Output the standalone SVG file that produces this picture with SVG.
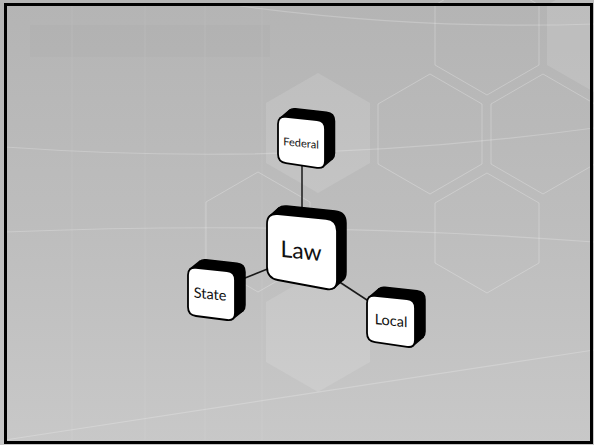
<svg xmlns="http://www.w3.org/2000/svg" width="594" height="445" viewBox="0 0 594 445">
<defs>
<linearGradient id="bg" x1="0" y1="0" x2="0" y2="1">
<stop offset="0" stop-color="#b4b4b4"/>
<stop offset="0.5" stop-color="#bdbdbd"/>
<stop offset="1" stop-color="#c8c8c8"/>
</linearGradient>
<polygon id="hex" points="0,-60 52,-30 52,30 0,60 -52,30 -52,-30"/>
</defs>
<style>
.hexfill{fill:#ffffff;fill-opacity:0.12;stroke:none}
.hexline{fill:none;stroke:#ffffff;stroke-opacity:0.25;stroke-width:1}
.arc{fill:none;stroke:#ffffff;stroke-opacity:0.22;stroke-width:1.2}
.stripe{stroke:#ffffff;stroke-opacity:0.04;stroke-width:2}
.conn{stroke:#1a1a1a;stroke-width:1.5;fill:none}
.depth{fill:#000;stroke:#000;stroke-width:1.5;stroke-linejoin:round}
.face{fill:#fff;stroke:#000;stroke-width:1.8}
.lbl{font-family:Lato,"Liberation Sans",sans-serif;fill:#111;text-anchor:middle}
</style>
<rect x="0" y="0" width="594" height="445" fill="url(#bg)"/>
<g id="background">
<rect x="30" y="25" width="240" height="32" fill="#000" fill-opacity="0.012"/>
<line class="stripe" x1="72" y1="5" x2="72" y2="440"/>
<line class="stripe" x1="145" y1="5" x2="145" y2="440"/>
<line class="stripe" x1="205" y1="5" x2="205" y2="440"/>
<line class="stripe" x1="262" y1="5" x2="262" y2="440"/>
<use href="#hex" class="hexfill" transform="translate(318,133)"/>
<use href="#hex" class="hexfill" transform="translate(318,332)"/>
<use href="#hex" class="hexfill" transform="translate(599,35)"/>
<use href="#hex" class="hexline" transform="translate(487,35)"/>
<use href="#hex" class="hexline" transform="translate(430,134)"/>
<use href="#hex" class="hexline" transform="translate(543,134)"/>
<use href="#hex" class="hexline" transform="translate(487,233)"/>
<use href="#hex" class="hexline" transform="translate(258,232)"/>
<path class="arc" d="M240,6 Q420,30 594,24"/>
<path class="arc" d="M5,147 Q300,168 594,128"/>
<path class="arc" d="M5,232 Q300,220 594,242"/>
<path class="arc" d="M5,440 Q300,395 594,350"/>
</g>
<g id="connectors">
<line class="conn" x1="302" y1="160" x2="302" y2="220"/>
<line class="conn" x1="240" y1="280" x2="270" y2="268"/>
<line class="conn" x1="338" y1="281" x2="370" y2="302"/>
</g>
<g id="node-law">
<path class="depth" transform="translate(9,-8)" d="M277.9,214.1 L326.05,218.9 Q337,220 337,231 L337,280 Q337,291 326.2,289 L277.8,280 Q267,278 267,267 L267,224 Q267,213 277.9,214.1 Z"/>
<polygon class="depth" points="269.7,216 278.7,208 343.3,279.75 334.3,287.75"/>
<path class="face" d="M277.9,214.1 L326.05,218.9 Q337,220 337,231 L337,280 Q337,291 326.2,289 L277.8,280 Q267,278 267,267 L267,224 Q267,213 277.9,214.1 Z"/>
<text class="lbl" font-size="23" transform="translate(301,251) skewY(6)" x="0" y="8">Law</text>
</g>
<g id="node-federal">
<path class="depth" transform="translate(9.5,-8)" d="M285.95,116.85 L317.05,120.15 Q325,121 325,129 L325,161 Q325,169 317.09,167.82 L285.91,163.18 Q278,162 278,154 L278,124 Q278,116 285.95,116.85 Z"/>
<polygon class="depth" points="280,118.2 289.5,110.2 332.5,158.7 323,166.7"/>
<path class="face" d="M285.95,116.85 L317.05,120.15 Q325,121 325,129 L325,161 Q325,169 317.09,167.82 L285.91,163.18 Q278,162 278,154 L278,124 Q278,116 285.95,116.85 Z"/>
<text class="lbl" font-size="11" transform="translate(301,143) skewY(6)" x="0" y="4">Federal</text>
</g>
<g id="node-state">
<path class="depth" transform="translate(10,-8)" d="M195.95,267.85 L227.05,271.15 Q235,272 235,280 L235,313 Q235,321 227.06,319.99 L195.94,316.01 Q188,315 188,307 L188,275 Q188,267 195.95,267.85 Z"/>
<polygon class="depth" points="190,269.2 200,261.2 243,310.75 233,318.75"/>
<path class="face" d="M195.95,267.85 L227.05,271.15 Q235,272 235,280 L235,313 Q235,321 227.06,319.99 L195.94,316.01 Q188,315 188,307 L188,275 Q188,267 195.95,267.85 Z"/>
<text class="lbl" font-size="14.5" transform="translate(210,294) skewY(6)" x="0" y="5.2">State</text>
</g>
<g id="node-local">
<path class="depth" transform="translate(10,-8.5)" d="M374.96,295.83 L407.04,299.17 Q415,300 415,308 L415,340 Q415,348 407.08,346.85 L374.92,342.15 Q367,341 367,333 L367,303 Q367,295 374.96,295.83 Z"/>
<polygon class="depth" points="369,297.2 379,288.7 423,337.2 413,345.7"/>
<path class="face" d="M374.96,295.83 L407.04,299.17 Q415,300 415,308 L415,340 Q415,348 407.08,346.85 L374.92,342.15 Q367,341 367,333 L367,303 Q367,295 374.96,295.83 Z"/>
<text class="lbl" font-size="14.5" transform="translate(391,320.5) skewY(6)" x="0" y="5.2">Local</text>
</g>
<rect x="5.5" y="4.5" width="586" height="438" fill="none" stroke="#000" stroke-width="3"/>
</svg>
